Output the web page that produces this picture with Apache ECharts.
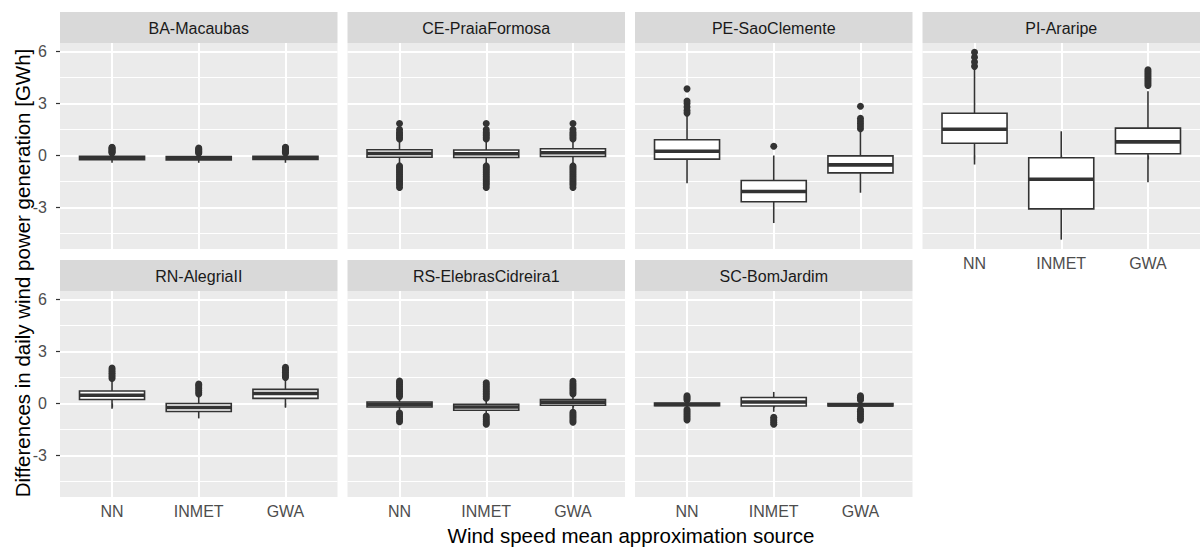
<!DOCTYPE html>
<html>
<head>
<meta charset="utf-8">
<script src="https://cdn.jsdelivr.net/npm/echarts@6/dist/echarts.min.js"></script>
<style>
html,body{margin:0;padding:0;background:#fff;}
#chart{width:1203px;height:547px;}
</style>
</head>
<body>
<div id="chart"></div>
<script>
// ---------- data ----------
const facets = ['BA-Macaubas','CE-PraiaFormosa','PE-SaoClemente','PI-Araripe','RN-AlegriaII','RS-ElebrasCidreira1','SC-BomJardim'];
const sources = ['NN','INMET','GWA'];
const yTicks = [-3, 0, 3, 6];
const yMinorTicks = [-4.5, -1.5, 1.5, 4.5];
const yRange = [-5.4, 6.5];
const xTicks = [1, 2, 3];
const xRange = [0.4, 3.6];
const yTitle = 'Differences in daily wind power generation [GWh]';
const xTitle = 'Wind speed mean approximation source';

// box stats per source: [lower whisker, Q1, median, Q3, upper whisker]
const boxBA = [[-0.42,-0.24,-0.14,-0.04,0.10],[-0.42,-0.25,-0.15,-0.06,0.09],[-0.42,-0.23,-0.13,-0.04,0.10]];
const outBA = [[0.14,0.19,0.24,0.29,0.34,0.39,0.44,0.48],[0.13,0.18,0.23,0.28,0.33,0.38,0.43],[0.14,0.19,0.24,0.29,0.34,0.39,0.44,0.48]];

const boxCE = [[-0.46,-0.10,0.12,0.33,0.80],[-0.46,-0.11,0.10,0.32,0.80],[-0.44,-0.06,0.16,0.39,0.82]];
const outCE = [
  [0.95,1.05,1.15,1.25,1.35,1.5,1.85,-0.6,-0.7,-0.8,-0.9,-1.0,-1.1,-1.2,-1.3,-1.4,-1.5,-1.6,-1.7,-1.85],
  [0.95,1.05,1.15,1.25,1.35,1.5,1.85,-0.6,-0.7,-0.8,-0.9,-1.0,-1.1,-1.2,-1.3,-1.4,-1.5,-1.6,-1.7,-1.85],
  [0.95,1.05,1.15,1.25,1.35,1.5,1.85,-0.6,-0.7,-0.8,-0.9,-1.0,-1.1,-1.2,-1.3,-1.4,-1.5,-1.6,-1.7,-1.85]
];

const boxPE = [[-1.60,-0.21,0.25,0.91,2.30],[-3.90,-2.67,-2.08,-1.44,0.00],[-2.15,-1.00,-0.54,-0.02,1.40]];
const outPE = [[2.45,2.6,2.8,3.0,3.15,3.85],[0.54],[1.55,1.7,1.85,2.0,2.15,2.85]];

const boxPI = [[-0.52,0.71,1.52,2.44,5.00],[-4.86,-3.08,-1.37,-0.13,1.40],[-1.54,0.10,0.79,1.58,3.71]];
const outPI = [[5.15,5.4,5.68,5.96],[],[4.05,4.15,4.25,4.35,4.45,4.55,4.65,4.75,4.85,4.95]];

const boxRN = [[-0.30,0.23,0.48,0.72,1.34],[-0.86,-0.46,-0.23,0.00,0.45],[-0.23,0.30,0.58,0.82,1.40]];
const outRN = [[1.45,1.55,1.65,1.75,1.85,1.95,2.05],[0.55,0.65,0.75,0.85,0.95,1.05,1.12],[1.5,1.6,1.7,1.8,1.9,2.0,2.1]];

const boxRS = [[-0.45,-0.20,-0.05,0.09,0.30],[-0.62,-0.39,-0.20,-0.04,0.20],[-0.40,-0.10,0.08,0.23,0.45]];
const outRS = [
  [0.4,0.5,0.6,0.7,0.8,0.9,1.0,1.1,1.2,1.3,-0.55,-0.65,-0.75,-0.85,-0.95,-1.05],
  [0.3,0.4,0.5,0.6,0.7,0.8,0.9,1.0,1.1,1.2,-0.72,-0.82,-0.92,-1.02,-1.12,-1.2],
  [0.55,0.65,0.75,0.85,0.95,1.05,1.15,1.28,-0.5,-0.6,-0.7,-0.8,-0.9,-1.0,-1.08]
];

const boxSC = [[-0.28,-0.12,-0.06,0.02,0.15],[-0.48,-0.14,0.09,0.35,0.67],[-0.30,-0.14,-0.08,0.00,0.14]];
const outSC = [
  [0.2,0.28,0.36,0.44,-0.35,-0.45,-0.55,-0.65,-0.75,-0.85,-0.95],
  [-0.8,-0.9,-1.0,-1.1,-1.2],
  [0.2,0.28,0.36,0.44,-0.35,-0.45,-0.55,-0.65,-0.75,-0.85,-0.95]
];

const boxes = [boxBA, boxCE, boxPE, boxPI, boxRN, boxRS, boxSC];
const outliers = [outBA, outCE, outPE, outPI, outRN, outRS, outSC];

// ---------- layout / style ----------
const FONT = "'Liberation Sans', Arial, sans-serif";
const panelLeft0 = 60, panelStep = 287.5, panelW = 277.5, panelH = 206;
const rowTop = [43, 291];
const stripH = 31;
const boxHalf = 0.375;
const INK = '#333333';

const grids = [], xAxes = [], yAxes = [], series = [], graphics = [];

function renderBox(params, api) {
  const x = api.value(0);
  const lo = api.coord([x, api.value(1)]);
  const q1 = api.coord([x - boxHalf, api.value(2)]);
  const mdL = api.coord([x - boxHalf, api.value(3)]);
  const mdR = api.coord([x + boxHalf, api.value(3)]);
  const q3 = api.coord([x + boxHalf, api.value(4)]);
  const hi = api.coord([x, api.value(5)]);
  const q1c = api.coord([x, api.value(2)]);
  const q3c = api.coord([x, api.value(4)]);
  const lw = 1.6;
  return {type: 'group', children: [
    {type: 'line', shape: {x1: lo[0], y1: lo[1], x2: q1c[0], y2: q1c[1]}, style: {stroke: INK, lineWidth: lw}},
    {type: 'line', shape: {x1: q3c[0], y1: q3c[1], x2: hi[0], y2: hi[1]}, style: {stroke: INK, lineWidth: lw}},
    {type: 'rect', shape: {x: q1[0], y: q3[1], width: q3[0] - q1[0], height: q1[1] - q3[1]},
      style: {fill: '#FFFFFF', stroke: INK, lineWidth: lw}},
    {type: 'line', shape: {x1: mdL[0], y1: mdL[1], x2: mdR[0], y2: mdR[1]}, style: {stroke: INK, lineWidth: 3.6}}
  ]};
}

facets.forEach((name, i) => {
  const col = i % 4, row = Math.floor(i / 4);
  const left = panelLeft0 + col * panelStep;
  const top = rowTop[row];
  grids.push({left: left, top: top, width: panelW, height: panelH, show: true,
    backgroundColor: '#EBEBEB', borderWidth: 0, containLabel: false, outerBoundsMode: 'none'});
  const showX = row === 1 || i === 3;
  const showY = col === 0;
  xAxes.push({type: 'value', gridIndex: i, min: xRange[0], max: xRange[1],
    axisLine: {show: false},
    axisTick: {show: showX, customValues: xTicks, length: 4, lineStyle: {color: INK, width: 1.2}},
    axisLabel: {show: showX, customValues: xTicks, margin: 6, color: '#4D4D4D', fontSize: 16, fontFamily: FONT,
      formatter: v => sources[Math.round(v) - 1]},
    splitLine: {show: true, lineStyle: {color: '#FFFFFF', width: 2}}
  });
  yAxes.push({type: 'value', gridIndex: i, min: yRange[0], max: yRange[1],
    axisLine: {show: false},
    axisTick: {show: showY, customValues: yTicks, length: 4, lineStyle: {color: INK, width: 1.2}},
    axisLabel: {show: showY, customValues: yTicks, margin: 13, color: '#4D4D4D', fontSize: 16, fontFamily: FONT},
    splitLine: {show: true, lineStyle: {color: '#FFFFFF', width: 2}}
  });
  yAxes.push({type: 'value', gridIndex: i, min: yRange[0], max: yRange[1], position: 'left',
    axisLine: {show: false},
    axisTick: {show: false, customValues: yMinorTicks},
    axisLabel: {show: false, customValues: yMinorTicks},
    splitLine: {show: true, lineStyle: {color: '#FFFFFF', width: 1}}
  });
  const pts = [];
  outliers[i].forEach((arr, k) => arr.forEach(v => pts.push([xTicks[k], v])));
  series.push({type: 'scatter', xAxisIndex: i, yAxisIndex: 2 * i, data: pts,
    symbol: 'circle', symbolSize: 7, itemStyle: {color: INK, opacity: 1},
    emphasis: {disabled: true}, z: 3});
  series.push({type: 'custom', xAxisIndex: i, yAxisIndex: 2 * i,
    data: boxes[i].map((b, k) => [xTicks[k]].concat(b)),
    encode: {x: 0, y: [1, 2, 3, 4, 5]},
    renderItem: renderBox, z: 4});
  graphics.push({type: 'rect', left: left, top: top - stripH,
    shape: {width: panelW, height: stripH}, style: {fill: '#D9D9D9'}, silent: true});
  graphics.push({type: 'text', x: left + panelW / 2, y: top - stripH / 2 + 1,
    style: {text: name, fill: '#1A1A1A', font: '16px ' + FONT,
      align: 'center', verticalAlign: 'middle', textAlign: 'center', textVerticalAlign: 'middle'}, silent: true});
});

graphics.push({type: 'text', x: 22, y: 273, rotation: Math.PI / 2,
  style: {text: yTitle, fill: '#000000', font: '20.5px ' + FONT,
    align: 'center', verticalAlign: 'middle', textAlign: 'center', textVerticalAlign: 'middle'}, silent: true});
graphics.push({type: 'text', x: 631, y: 535,
  style: {text: xTitle, fill: '#000000', font: '20.5px ' + FONT,
    align: 'center', verticalAlign: 'middle', textAlign: 'center', textVerticalAlign: 'middle'}, silent: true});

const chart = echarts.init(document.getElementById('chart'), null, {renderer: 'svg'});
chart.setOption({
  animation: false,
  backgroundColor: '#FFFFFF',
  grid: grids,
  xAxis: xAxes,
  yAxis: yAxes,
  series: series,
  graphic: graphics
});
</script>
</body>
</html>
